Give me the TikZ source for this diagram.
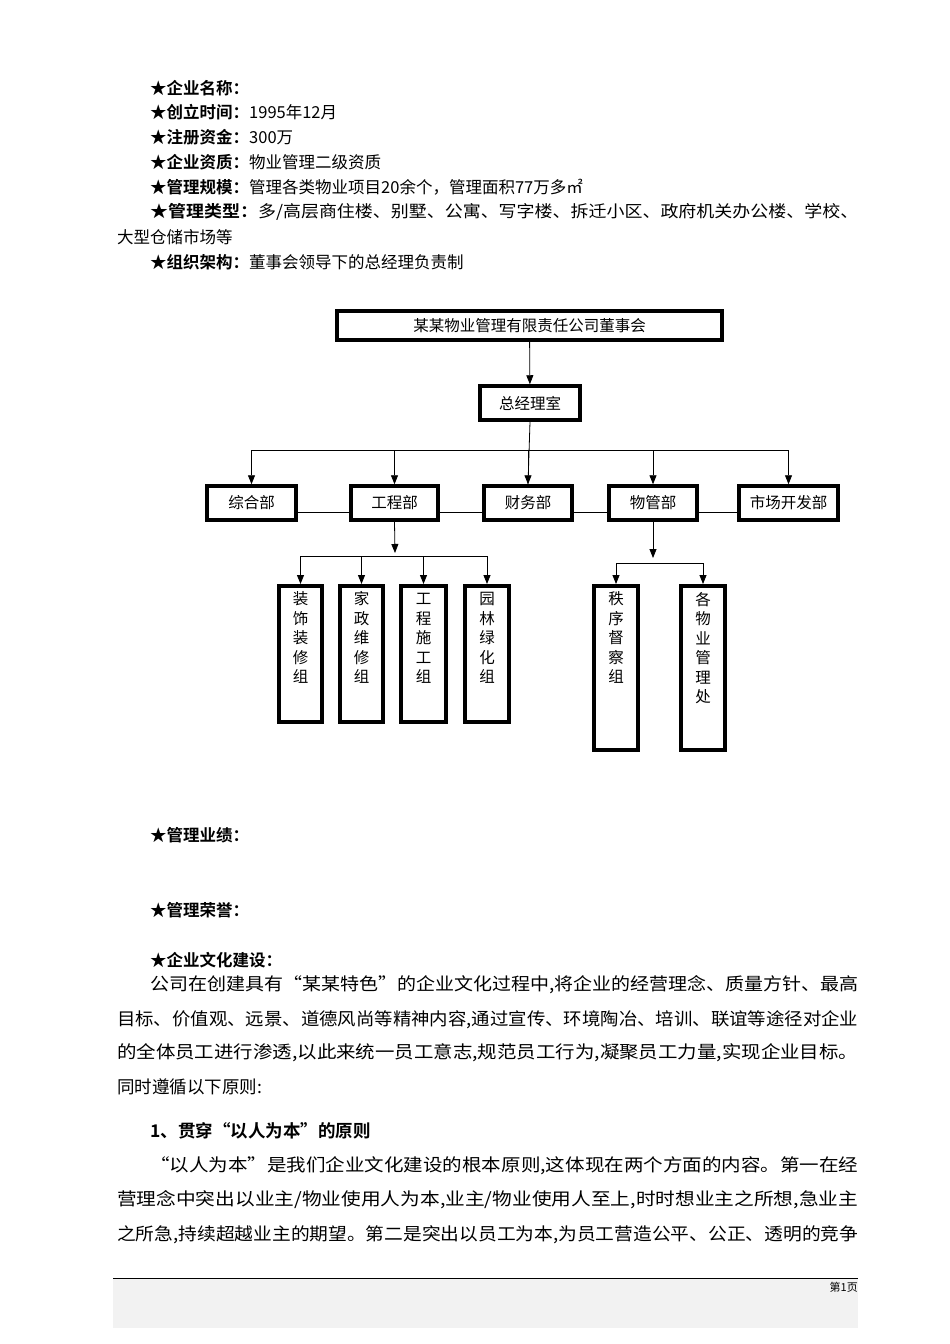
\documentclass[tikz,border=0pt]{standalone}
\usepackage{fontspec}
\usepackage{graphicx}
\setmainfont{Noto Sans CJK SC}
\newfontfamily\cjkb{Noto Sans CJK SC Bold}
\newcommand{\jline}[2]{\resizebox{#1pt}{\height}{#2}}
\usetikzlibrary{arrows.meta}
\begin{document}
\begin{tikzpicture}[x=1pt,y=-1pt,
  txt/.style={anchor=west,inner sep=0pt,font=\fontsize{16.5}{16.5}\selectfont},
  body/.style={anchor=west,inner sep=0pt,font=\fontsize{17.5}{17.5}\selectfont},
  box/.style={draw,line width=3.5pt,inner sep=0pt,font=\fontsize{15.5}{15.5}\selectfont},
  vbox/.style={box,align=center,anchor=north,font=\fontsize{15.5}{19.5}\selectfont},
  arr/.style={-{Triangle[length=9pt,width=7pt]},line width=0.8pt},
  ln/.style={line width=0.8pt}]
\useasboundingbox (0,0) rectangle (950,1344);
\node[txt] (l1) at (150,88) {{\cjkb ★企业名称：}};
\node[txt] (l2) at (150,112) {{\cjkb ★创立时间：}1995年12月};
\node[txt] (l3) at (150,137) {{\cjkb ★注册资金：}300万};
\node[txt] (l4) at (150,162) {{\cjkb ★企业资质：}物业管理二级资质};
\node[txt] (l5) at (150,187) {{\cjkb ★管理规模：}管理各类物业项目20余个，管理面积77万多㎡};
\node[txt] (l6) at (150,212) {\jline{708}{{\cjkb ★管理类型：}多/高层商住楼、别墅、公寓、写字楼、拆迁小区、政府机关办公楼、学校、}};
\node[txt] (l6b) at (117,237) {大型仓储市场等};
\node[txt] (l7) at (150,262) {{\cjkb ★组织架构：}董事会领导下的总经理负责制};

\node[box,minimum width=385pt,minimum height=29pt] (top) at (529.5,325.5) {某某物业管理有限责任公司董事会};
\node[box,minimum width=100pt,minimum height=34pt] (gm) at (530,403) {总经理室};
\node[box,minimum width=89pt,minimum height=34pt] (d1) at (251.5,503) {综合部};
\node[box,minimum width=87pt,minimum height=34pt] (d2) at (394.5,503) {工程部};
\node[box,minimum width=88pt,minimum height=34pt] (d3) at (528,503) {财务部};
\node[box,minimum width=88pt,minimum height=34pt] (d4) at (653,503) {物管部};
\node[box,minimum width=99pt,minimum height=34pt] (d5) at (788.5,503) {市场开发部};
\draw[arr] (top) -- (gm);
\coordinate (hb) at (530,450);
\draw[ln] (gm.south) -- (d3.north);
\draw[ln] (d1.north |- hb) -- (d5.north |- hb);
\foreach \d in {d1,d2,d3,d4,d5} \draw[arr] (\d.north |- hb) -- (\d.north);
\draw[ln] (d1.east |- 0,512) -- (d2.west |- 0,512);
\draw[ln] (d2.east |- 0,512) -- (d3.west |- 0,512);
\draw[ln] (d3.east |- 0,512) -- (d4.west |- 0,512);
\draw[ln] (d4.east |- 0,512) -- (d5.west |- 0,512);

\node[vbox,minimum width=43pt,minimum height=136pt] (s1) at (300.5,584) {\\[-6pt]装\\饰\\装\\修\\组\\[14pt]};
\node[vbox,minimum width=43pt,minimum height=136pt] (s2) at (361.5,584) {\\[-6pt]家\\政\\维\\修\\组\\[14pt]};
\node[vbox,minimum width=45pt,minimum height=136pt] (s3) at (423.5,584) {\\[-6pt]工\\程\\施\\工\\组\\[14pt]};
\node[vbox,minimum width=44pt,minimum height=136pt] (s4) at (487,584) {\\[-6pt]园\\林\\绿\\化\\组\\[14pt]};
\node[vbox,minimum width=44pt,minimum height=164pt,anchor=north] (s5) at (616,584) {\\[-6pt]秩\\序\\督\\察\\组\\[42pt]};
\node[vbox,minimum width=44pt,minimum height=164pt,anchor=north] (s6) at (703,584) {\\[-6pt]各\\物\\业\\管\\理\\处\\[22pt]};
\coordinate (e1) at (395,556);
\coordinate (e2) at (653,563);
\draw[arr] (d2.south) -- (395,553);
\draw[ln] (s1.north |- e1) -- (s4.north |- e1);
\foreach \s in {s1,s2,s3,s4} \draw[arr] (\s.north |- e1) -- (\s.north);
\draw[arr] (d4.south) -- (653,558);
\draw[ln] (s5.north |- e2) -- (s6.north |- e2);
\foreach \s in {s5,s6} \draw[arr] (\s.north |- e2) -- (\s.north);

\node[txt] (h1) at (150,835) {{\cjkb ★管理业绩：}};
\node[txt] (h2) at (150,910) {{\cjkb ★管理荣誉：}};
\node[txt] (h3) at (150,960) {{\cjkb ★企业文化建设：}};
\node[body] (b1) at (150,985) {\jline{708}{公司在创建具有“某某特色”的企业文化过程中,将企业的经营理念、质量方针、最高}};
\node[body] (b2) at (117,1020) {\jline{741}{目标、价值观、远景、道德风尚等精神内容,通过宣传、环境陶冶、培训、联谊等途径对企业}};
\node[body] (b3) at (117,1053) {\jline{741}{的全体员工进行渗透,以此来统一员工意志,规范员工行为,凝聚员工力量,实现企业目标。}};
\node[body] (b4) at (117,1087) {同时遵循以下原则:};
\node[body] (b5) at (150,1131) {\cjkb 1、贯穿“以人为本”的原则};
\node[body] (b6) at (150,1166) {\jline{708}{“以人为本”是我们企业文化建设的根本原则,这体现在两个方面的内容。第一在经}};
\node[body] (b7) at (117,1200) {\jline{741}{营理念中突出以业主/物业使用人为本,业主/物业使用人至上,时时想业主之所想,急业主}};
\node[body] (b8) at (117,1235) {\jline{741}{之所急,持续超越业主的期望。第二是突出以员工为本,为员工营造公平、公正、透明的竞争}};

\fill[gray!10] (113,1278) rectangle (858,1328);
\draw[line width=0.8pt] (113,1278) -- (858,1278);
\node[anchor=north east,inner sep=0pt,font=\fontsize{11}{11}\selectfont] (pg) at (858,1282) {第1页};
\end{tikzpicture}
\end{document}
